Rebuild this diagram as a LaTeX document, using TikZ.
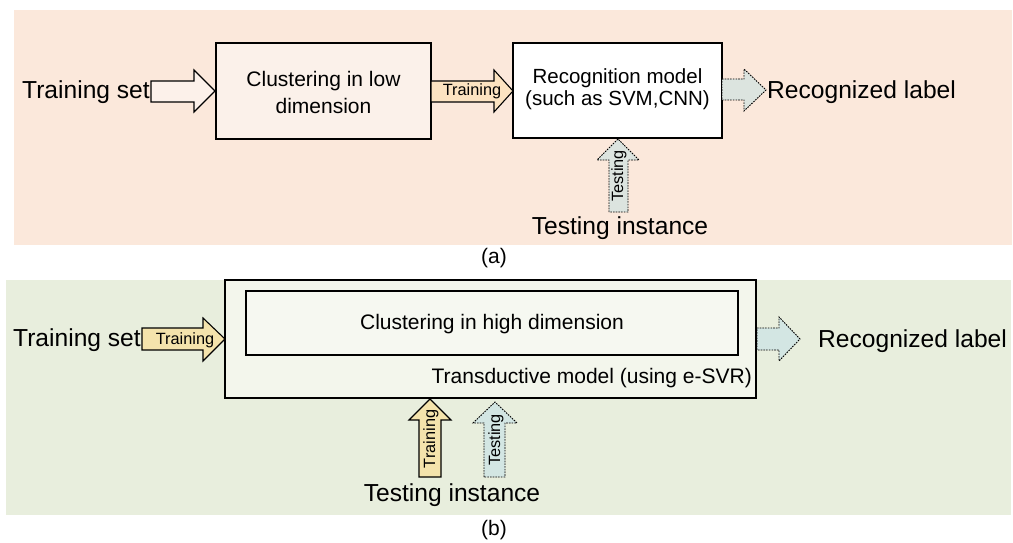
\documentclass[tikz,border=0pt]{standalone}
\usepackage{fontspec}
\setmainfont{Liberation Sans}
\usetikzlibrary{calc}
\definecolor{bgA}{HTML}{FBE8DB}
\definecolor{bgB}{HTML}{E8EEDD}
\definecolor{boxA}{HTML}{FBF1EA}
\definecolor{boxB}{HTML}{F3F6EC}
\definecolor{boxBin}{HTML}{F6F8F1}
\definecolor{trainA}{HTML}{FCE3C1}
\definecolor{trainB}{HTML}{F4E3AC}
\definecolor{testA}{HTML}{DCE4DF}
\definecolor{testB}{HTML}{D3E6E3}
\definecolor{hollow}{HTML}{FCF1EA}
\tikzset{
  blockbox/.style={draw=black, line width=1.1pt},
  solidarrow/.style={draw=black, line width=1.1pt, line join=miter},
  dotarrow/.style={draw=black, line width=0.9pt, dash pattern=on 1.6pt off 1.1pt, line join=miter},
  bigtext/.style={font=\fontsize{24.6}{28}\selectfont, inner sep=0pt},
  midtext/.style={font=\fontsize{21}{27}\selectfont, inner sep=0pt},
  smalltext/.style={font=\fontsize{16.3}{18}\selectfont, inner sep=0pt},
  captext/.style={font=\fontsize{21}{24}\selectfont, inner sep=0pt}
}
\begin{document}
\begin{tikzpicture}[x=1pt, y=-1pt]
\useasboundingbox (0,0) rectangle (1013,543);

% ---------- (a) inductive pipeline ----------
\fill[bgA] (14,10) rectangle (1012,245);

\draw[blockbox, fill=boxA] (216,43) rectangle (431,139);
\node[midtext, align=center] (clowA) at (323.5,92) {Clustering in low\\dimension};

\draw[blockbox, fill=white] (513,43) rectangle (722,138);
\node[font=\fontsize{20.5}{22}\selectfont, inner sep=0pt, align=center] (recA) at (617.5,89) {Recognition model\\(such as SVM,CNN)};

% input arrow
\draw[solidarrow, fill=hollow] (151,81) -- (194,81) -- (194,70) -- (215,91) -- (194,112) -- (194,102) -- (151,102) -- cycle;
\node[bigtext, anchor=east] (tsetA) at (150,92) {Training set};

% training arrow between the boxes
\draw[solidarrow, fill=trainA] (431,81) -- (494,81) -- (494,70) -- (513,91) -- (494,112) -- (494,102) -- (431,102) -- cycle;
\node[smalltext] (trA) at (472,91) {Training};

% output arrow
\draw[dotarrow, fill=testA] (722,79) -- (744,79) -- (744,69) -- (766,90) -- (744,111) -- (744,100) -- (722,100) -- cycle;
\node[bigtext, anchor=west] (labA) at (767,92) {Recognized label};

% testing arrow
\draw[dotarrow, fill=testA] (609,212) -- (609,160) -- (597,160) -- (618,139) -- (639,160) -- (628,160) -- (628,212) -- cycle;
\node[smalltext, rotate=90] (teA) at (619,176) {Testing};
\node[bigtext] (instA) at (620,228) {Testing instance};

\node[captext] (capA) at (494,258) {(a)};

% ---------- (b) transductive pipeline ----------
\fill[bgB] (6,280) rectangle (1011,515);

\draw[blockbox, fill=boxB] (225,280) rectangle (756,398);
\draw[blockbox, fill=boxBin] (246,291) rectangle (738,355);
\node[midtext] (chighB) at (492,324) {Clustering in high dimension};
\node[midtext, anchor=east] (tmodB) at (752,378) {Transductive model (using e-SVR)};

\draw[solidarrow, fill=trainB] (142,328) -- (203,328) -- (203,318) -- (225,339) -- (203,361) -- (203,350) -- (142,350) -- cycle;
\node[smalltext] (trB) at (185,340) {Training};
\node[bigtext, anchor=east] (tsetB) at (141,340) {Training set};

\draw[dotarrow, fill=testB] (757,328) -- (779,328) -- (779,317) -- (800,339) -- (779,361) -- (779,350) -- (757,350) -- cycle;
\node[bigtext, anchor=west] (labB) at (818,341) {Recognized label};

\draw[solidarrow, fill=trainB] (419,477) -- (419,420) -- (409,420) -- (430,399) -- (451,420) -- (441,420) -- (441,477) -- cycle;
\node[smalltext, rotate=90] (trvB) at (431,439) {Training};

\draw[dotarrow, fill=testB] (484,477) -- (484,423) -- (473,423) -- (495,402) -- (517,423) -- (505,423) -- (505,477) -- cycle;
\node[smalltext, rotate=90] (tevB) at (496,440) {Testing};

\node[bigtext] (instB) at (452,495) {Testing instance};
\node[captext] (capB) at (494,530) {(b)};
\end{tikzpicture}
\end{document}
